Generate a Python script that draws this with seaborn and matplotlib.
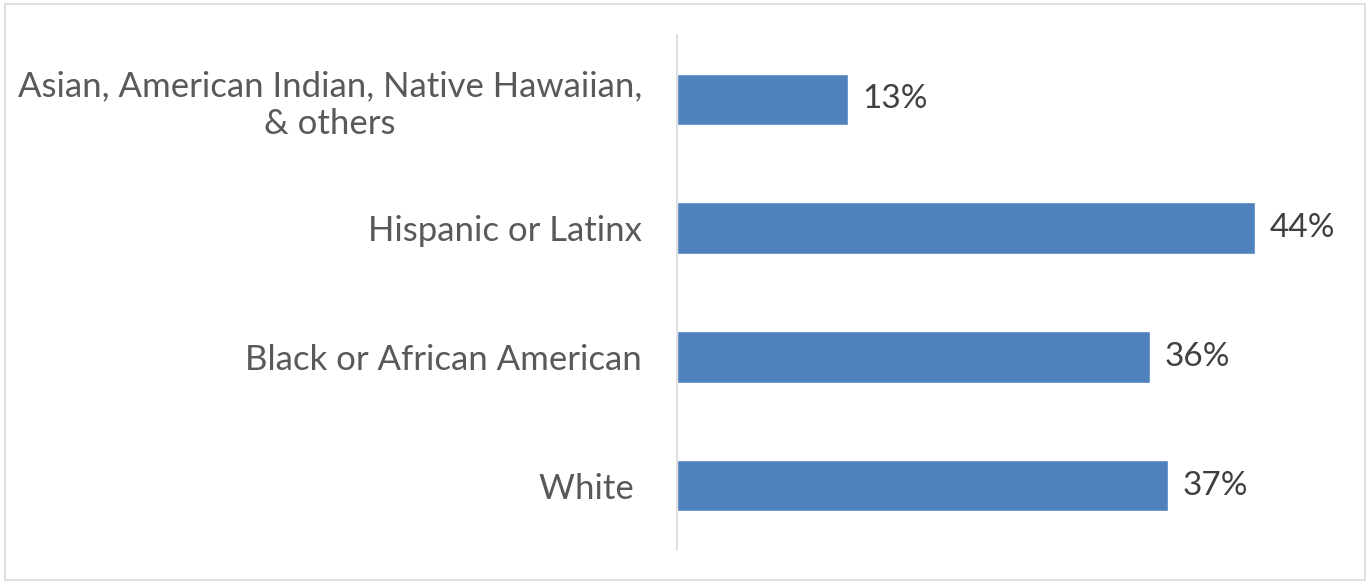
import matplotlib
matplotlib.use("Agg")
import matplotlib.pyplot as plt
import seaborn as sns
import pandas as pd
from matplotlib.patches import Rectangle

categories = ["Asian, American Indian, Native Hawaiian,\n& others",
              "Hispanic or Latinx",
              "Black or African American",
              "White "]
values = [13.0, 44.0, 36.0, 37.4]
value_labels = ["13%", "44%", "36%", "37%"]

df = pd.DataFrame({"group": categories, "pct": values})

sns.set_theme(style="white")
plt.rcParams['font.family'] = ['Lato', 'DejaVu Sans']

fig = plt.figure(figsize=(13.69, 5.82), dpi=100)
ax = fig.add_axes([0.4945, 0.055, 0.48, 0.885])

sns.barplot(data=df, x="pct", y="group", color="#4F81BD", saturation=1,
            width=0.4, ax=ax)

for i, (v, lab) in enumerate(zip(values, value_labels)):
    ax.text(v + 1.1, i, lab, va="center", ha="left", fontsize=24, color="#404040")

ax.set_xlim(0, 50)
ax.set_ylim(3.5, -0.5)
ax.set_xlabel("")
ax.set_ylabel("")
ax.set_xticks([])
for s in ["top", "right", "bottom"]:
    ax.spines[s].set_visible(False)
ax.spines["left"].set_color("#d9d9d9")
ax.spines["left"].set_linewidth(1.2)
ax.tick_params(axis="y", length=0, pad=25, labelsize=25, labelcolor="#595959")
for t in ax.get_yticklabels():
    t.set_multialignment("center")

fig.patches.append(Rectangle((0.004, 0.004), 0.993, 0.989, transform=fig.transFigure,
                             fill=False, edgecolor="#d9d9d9", linewidth=1.2))

fig.savefig("out.png", dpi=100)
